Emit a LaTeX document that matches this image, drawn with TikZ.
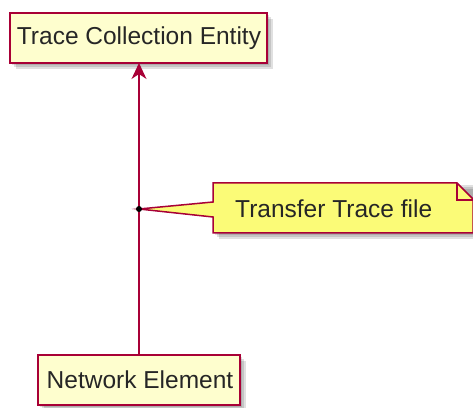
\documentclass[tikz,border=0pt]{standalone}
\usepackage{fontspec}
\setmainfont{Liberation Sans}
\usetikzlibrary{arrows.meta}
\definecolor{pumlred}{HTML}{A80036}
\definecolor{boxfill}{HTML}{FEFECE}
\definecolor{notefill}{HTML}{FBFB77}
\tikzset{
  x=1pt, y=1pt,
  lbl/.style={font=\fontsize{24.5}{28}\selectfont, text=black!85, inner sep=0pt},
  boxline/.style={draw=pumlred, line width=1.5pt},
  shadowfill/.style={fill=black, opacity=0.12},
}
\begin{document}
\begin{tikzpicture}
\useasboundingbox (0,0) rectangle (473,407);
\begin{scope}
\clip (0,0) rectangle (473,407);
% shadows
\foreach \d in {2,4,6}{
  \fill[shadowfill] (10+\d,344-\d) rectangle (267+\d,394-\d);
  \fill[shadowfill] (38+\d,2-\d) rectangle (240+\d,52-\d);
  \fill[shadowfill] (213+\d,174-\d) rectangle (473+\d,224-\d);
}
% top box
\draw[boxline, fill=boxfill] (10,344) rectangle (267,394);
\node[lbl] (tce) at (139,369) {Trace Collection Entity};
\coordinate (tceb) at (139,344);
% bottom box
\draw[boxline, fill=boxfill] (38,2) rectangle (240,52);
\node[lbl] (ne) at (140,27) {Network Element};
\coordinate (net) at (139,52);
% connector
\draw[pumlred, line width=1.3pt, -{Stealth[length=16pt, width=15pt, inset=5pt]}] (net) -- (tceb);
% note
\coordinate (dot) at (139,198);
\draw[boxline, fill=notefill, line join=miter]
  (dot) -- (213,205) -- (213,224) -- (457,224) -- (473,208) -- (473,174) -- (213,174) -- (213,190) -- cycle;
\draw[boxline, line join=miter] (457,224) -- (457,207) -- (473,207);
\fill[black] (dot) circle (3);
\node[lbl, anchor=west] (note) at (235,198) {Transfer Trace file};
\end{scope}
\end{tikzpicture}
\end{document}
